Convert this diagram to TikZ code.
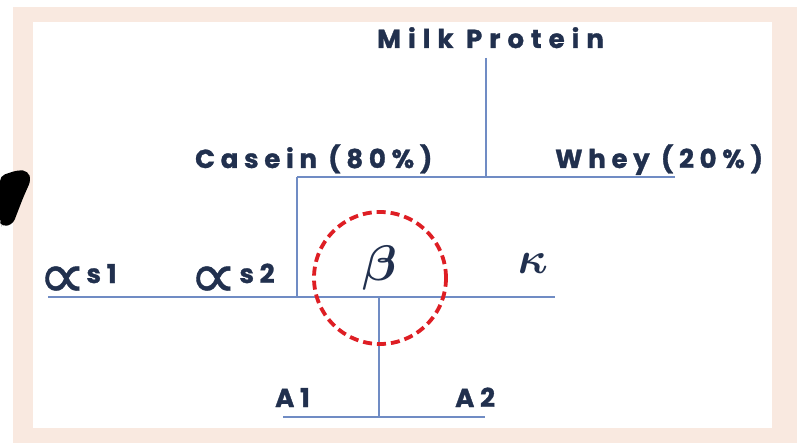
\documentclass[tikz,border=0pt]{standalone}
\usepackage{graphicx}
\usepackage{fontspec}
\setmainfont{Poppins}
\newfontfamily\popsp[LetterSpace=22,FakeBold=1.2]{Poppins}
\newfontfamily\popwide[LetterSpace=27,FakeBold=1.2]{Poppins}
\newfontfamily\djv[FakeBold=0.6]{DejaVu Sans}
\definecolor{peach}{RGB}{249,233,224}
\definecolor{navy}{RGB}{33,48,78}
\definecolor{lineblue}{RGB}{112,140,196}
\definecolor{dashred}{RGB}{222,30,36}
\newcommand{\propsym}{\raisebox{-15pt}{\scalebox{2.6}[2.5]{\djv\mdseries ∝}}}
\begin{document}
\begin{tikzpicture}[x=1pt,y=-1pt,
  lbl/.style={inner sep=0pt,anchor=base west,text=navy,font=\popsp\bfseries\fontsize{26}{26}\selectfont},
  greek/.style={inner sep=0pt,anchor=base,text=navy},
  tree/.style={draw=lineblue,line width=1.4pt},
  ring/.style={draw=dashred,line width=3.8pt,dash pattern=on 9pt off 5pt}]
\useasboundingbox (0,0) rectangle (799,443);
\fill[white] (0,0) rectangle (799,443);
\fill[peach] (13,7) rectangle (797,443);
\fill[white] (33,22) rectangle (772,428);
% black brush stroke at left edge
\fill[black,rounded corners=5pt] (0,176) -- (18,170) -- (28,171) -- (31,180) -- (23,198) -- (13,224) -- (2,227) -- (0,222) -- cycle;
% labels
\node[lbl,font=\popwide\bfseries\fontsize{26}{26}\selectfont] (milk) at (377,48) {Milk Protein};
\node[lbl] (casein) at (195,168) {Casein (80\%)};
\node[lbl] (whey) at (555,168) {Whey (20\%)};
\node[lbl] (as1) at (38,283) {\propsym s1};
\node[lbl] (as2) at (189,283) {\propsym\hspace{2pt}s2};
\node[greek] (beta) at (380,280) {\scalebox{5}{\boldmath$\beta$}};
\node[greek] (kappa) at (533,273) {\scalebox{4.5}{\boldmath$\kappa$}};
\node[lbl] (a1) at (275,407) {A1};
\node[lbl] (a2) at (455,407) {A2};
% tree junctions
\coordinate (mtop) at (486,58);
\coordinate (mj) at (486,177);
\coordinate (cl) at (297,177);
\coordinate (wr) at (675,177);
\coordinate (cj) at (297,297);
\coordinate (rl) at (48,297);
\coordinate (rr) at (555,297);
\coordinate (bj) at (379,297);
\coordinate (bb) at (379,417);
\coordinate (al) at (283,417);
\coordinate (ar) at (485,417);
\draw[tree] (mtop) -- (mj);
\draw[tree] (cl) -- (wr);
\draw[tree] (cl) -- (cj);
\draw[tree] (rl) -- (rr);
\draw[tree] (bj) -- (bb);
\draw[tree] (al) -- (ar);
% dashed ring around beta
\node[ring,circle,minimum size=132pt,inner sep=0pt] (betaring) at (380,278) {};
\end{tikzpicture}
\end{document}
